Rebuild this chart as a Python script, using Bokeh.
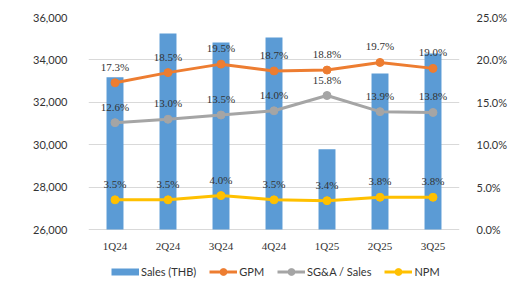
from bokeh.plotting import figure
from bokeh.models import (Range1d, LinearAxis, Legend, LegendItem, LabelSet, ColumnDataSource,
                          NumeralTickFormatter, FixedTicker, CustomJSTickFormatter)
from bokeh.embed import file_html
from bokeh.resources import INLINE

quarters = ["1Q24", "2Q24", "3Q24", "4Q24", "1Q25", "2Q25", "3Q25"]
sales = [33180, 35250, 34820, 35060, 29780, 33360, 34300]
gpm = [17.3, 18.5, 19.5, 18.7, 18.8, 19.7, 19.0]
sga = [12.6, 13.0, 13.5, 14.0, 15.8, 13.9, 13.8]
npm = [3.5, 3.5, 4.0, 3.5, 3.4, 3.8, 3.8]
left_ticks = [26000, 28000, 30000, 32000, 34000, 36000]
right_ticks = [0, 5, 10, 15, 20, 25]

FONT = "Lato"
TXT = "#333333"
BLUE, ORANGE, GRAY, YELLOW = "#5B9BD5", "#ED7D31", "#A5A5A5", "#FFC000"

W, H = 510, 282
TOP, LEFT, RIGHT = 17, 88, 48
PLOT_H = 212          # pixel height of the value area (grid 26,000 .. 36,000)
FRAME_H = H - TOP     # frame reaches the bottom so labels/legend below the grid stay visible
ext = FRAME_H / PLOT_H

src = ColumnDataSource(dict(
    q=quarters, sales=sales, gpm=gpm, sga=sga, npm=npm,
    gpm_l=[f"{v:.1f}%" for v in gpm],
    sga_l=[f"{v:.1f}%" for v in sga],
    npm_l=[f"{v:.1f}%" for v in npm],
))

p = figure(x_range=quarters, width=W, height=H, output_backend="svg",
           toolbar_location=None, min_border_left=LEFT, min_border_right=RIGHT,
           min_border_top=TOP, min_border_bottom=0)
lo, hi = left_ticks[0], left_ticks[-1]
p.y_range = Range1d(hi - (hi - lo) * ext, hi)
plo, phi = right_ticks[0], right_ticks[-1]
p.extra_y_ranges = {"pct": Range1d(phi - (phi - plo) * ext, phi)}
p.outline_line_color = None
p.background_fill_color = "white"
p.border_fill_color = "white"

bars = p.vbar(x="q", top="sales", bottom=lo, width=0.32, source=src,
              fill_color=BLUE, line_color=None)

lines = {}
for col, colr in [("gpm", ORANGE), ("sga", GRAY), ("npm", YELLOW)]:
    ln = p.line(x="q", y=col, source=src, line_color=colr, line_width=3, y_range_name="pct")
    sc = p.scatter(x="q", y=col, source=src, size=8, fill_color=colr, line_color=colr, y_range_name="pct")
    lines[col] = (ln, sc)
    lab = LabelSet(x="q", y=col, text=col + "_l", source=src, y_range_name="pct",
                   text_align="center", text_baseline="alphabetic", y_offset=12,
                   text_font=FONT, text_font_size="11px", text_color=TXT)
    p.add_layout(lab)

# category labels under the baseline
p.add_layout(LabelSet(x="q", y=lo, text="q", source=src, text_align="center",
                      text_baseline="alphabetic", y_offset=-20,
                      text_font=FONT, text_font_size="11px", text_color=TXT))
p.xaxis.visible = False

# value axes
ax = p.yaxis[0]
ax.ticker = FixedTicker(ticks=left_ticks)
ax.formatter = NumeralTickFormatter(format="0,0")
right = LinearAxis(y_range_name="pct", ticker=FixedTicker(ticks=right_ticks),
                   formatter=CustomJSTickFormatter(code="return tick.toFixed(1) + '%'"))
p.add_layout(right, "right")

for a in [ax, right]:
    a.axis_line_color = None
    a.major_tick_line_color = None
    a.minor_tick_line_color = None
    a.major_label_text_font = FONT
    a.major_label_text_font_size = "11px"
    a.major_label_text_color = TXT
ax.major_label_standoff = 15
right.major_label_standoff = 11

p.xgrid.grid_line_color = None
p.ygrid.grid_line_color = "#D9D9D9"
p.ygrid.ticker = FixedTicker(ticks=left_ticks)

# legend (Sales swatch: a flat thick line that draws nothing in the plot itself)
sales_swatch = p.line(x=[quarters[0]], y=[float("nan")], line_color=BLUE, line_width=7,
                      line_cap="butt")
items = [
    LegendItem(label="Sales (THB)", renderers=[sales_swatch]),
    LegendItem(label="GPM", renderers=list(lines["gpm"])),
    LegendItem(label="SG&A / Sales", renderers=list(lines["sga"])),
    LegendItem(label="NPM", renderers=list(lines["npm"])),
]
leg = Legend(items=items, orientation="horizontal", location=(23, 2),
             glyph_width=28, glyph_height=17, label_standoff=2, spacing=13,
             padding=0, margin=0, border_line_color=None, background_fill_alpha=0,
             label_text_font=FONT, label_text_font_size="11px", label_text_color=TXT)
p.add_layout(leg, "center")

open("out.html", "w").write(file_html(p, INLINE))
